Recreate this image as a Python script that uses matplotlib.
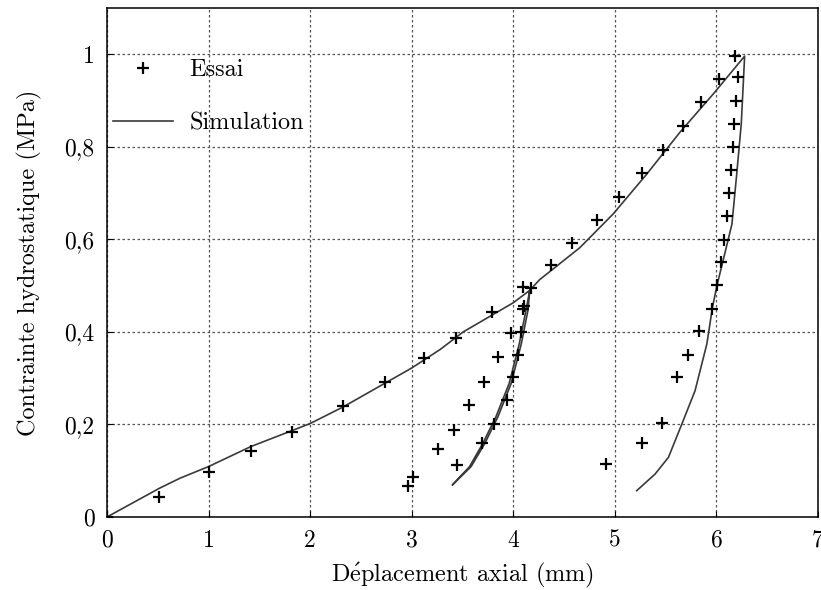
import matplotlib
matplotlib.use("Agg")
import matplotlib.pyplot as plt

plt.rcParams['font.family'] = ['cmr10', 'DejaVu Serif']
plt.rcParams['mathtext.fontset'] = 'cm'
plt.rcParams['axes.unicode_minus'] = False

# essai (test points)
essai_x = [0, 0.515, 1.004, 1.414, 1.818, 2.326, 2.733, 3.126, 3.432, 3.786, 4.098, 4.173,
           3.973, 3.85, 3.71, 3.566, 3.415, 3.261, 3.015, 2.966,
           3.448, 3.694, 3.81, 3.934, 3.993, 4.05, 4.08, 4.098, 4.11,
           4.367, 4.583, 4.827, 5.04, 5.265, 5.473, 5.676, 5.85, 6.028, 6.186,
           6.215, 6.196, 6.176, 6.159, 6.144, 6.124, 6.104, 6.078, 6.043, 6.005,
           5.956, 5.83, 5.725, 5.61, 5.462, 5.268, 4.915]
essai_y = [0, 0.044, 0.097, 0.142, 0.184, 0.241, 0.291, 0.343, 0.387, 0.443, 0.497, 0.494,
           0.398, 0.345, 0.291, 0.242, 0.189, 0.148, 0.087, 0.067,
           0.112, 0.160, 0.202, 0.253, 0.302, 0.351, 0.400, 0.449, 0.455,
           0.544, 0.593, 0.642, 0.692, 0.743, 0.794, 0.846, 0.896, 0.946, 0.996,
           0.950, 0.900, 0.850, 0.800, 0.751, 0.700, 0.651, 0.599, 0.551, 0.501,
           0.450, 0.401, 0.351, 0.302, 0.203, 0.159, 0.114]

# simulation curve
sim_x = [0, 0.515, 0.72, 1.0, 1.414, 2.0, 2.326, 3.0, 3.28, 3.507, 4.0, 4.163,
         4.145, 4.08, 3.98, 3.85, 3.72, 3.585, 3.40,
         3.57, 3.70, 3.83, 3.96, 4.06, 4.125, 4.163, 4.26,
         4.655, 4.984, 5.314, 5.643, 5.972, 6.278,
         6.245, 6.2, 6.153, 6.05, 6.005, 5.962, 5.906, 5.79, 5.66, 5.528, 5.397, 5.216]
sim_y = [0, 0.062, 0.084, 0.109, 0.152, 0.202, 0.238, 0.322, 0.362, 0.400, 0.463, 0.490,
         0.447, 0.375, 0.289, 0.217, 0.159, 0.109, 0.069,
         0.109, 0.159, 0.217, 0.289, 0.375, 0.447, 0.490, 0.513,
         0.582, 0.655, 0.741, 0.832, 0.915, 0.996,
         0.850, 0.741, 0.633, 0.540, 0.500, 0.454, 0.374, 0.273, 0.201, 0.129, 0.093, 0.057]

xticks = [0, 1, 2, 3, 4, 5, 6, 7]
yticks = [0, 0.2, 0.4, 0.6, 0.8, 1.0]
ytick_labels = ['0', '0,2', '0,4', '0,6', '0,8', '1']

fig = plt.figure(figsize=(8.21, 5.90), dpi=100)
ax = fig.add_axes([0.1303, 0.1237, 0.8660, 0.8627])

ax.plot(essai_x, essai_y, '+', color='black', markersize=8, mew=1.6, label='Essai', zorder=3)
ax.plot(sim_x, sim_y, '-', color='#3a3a3a', lw=1.2, label='Simulation', zorder=2)

ax.set_xlim(0, 7)
ax.set_ylim(0, 1.1)
ax.set_xticks(xticks)
ax.set_yticks(yticks)
ax.set_yticklabels(ytick_labels)
ax.tick_params(direction='in', labelsize=17, length=4, pad=9)
ax.grid(True, linestyle=(0, (2, 2)), color='#555555', lw=0.9)
for s in ax.spines.values():
    s.set_linewidth(1.1)

ax.set_xlabel(r'D$\mathrm{\acute{e}}$placement axial (mm)', fontsize=17.5, labelpad=7)
ax.set_ylabel('Contrainte hydrostatique (MPa)', fontsize=17.5, labelpad=16)

ax.legend(loc='upper left', bbox_to_anchor=(0.008, 0.9), frameon=False, fontsize=17.5,
          handlelength=2.5, handletextpad=0.65, labelspacing=1.3, borderaxespad=0,
          borderpad=0)

fig.savefig('out.png', dpi=100)
